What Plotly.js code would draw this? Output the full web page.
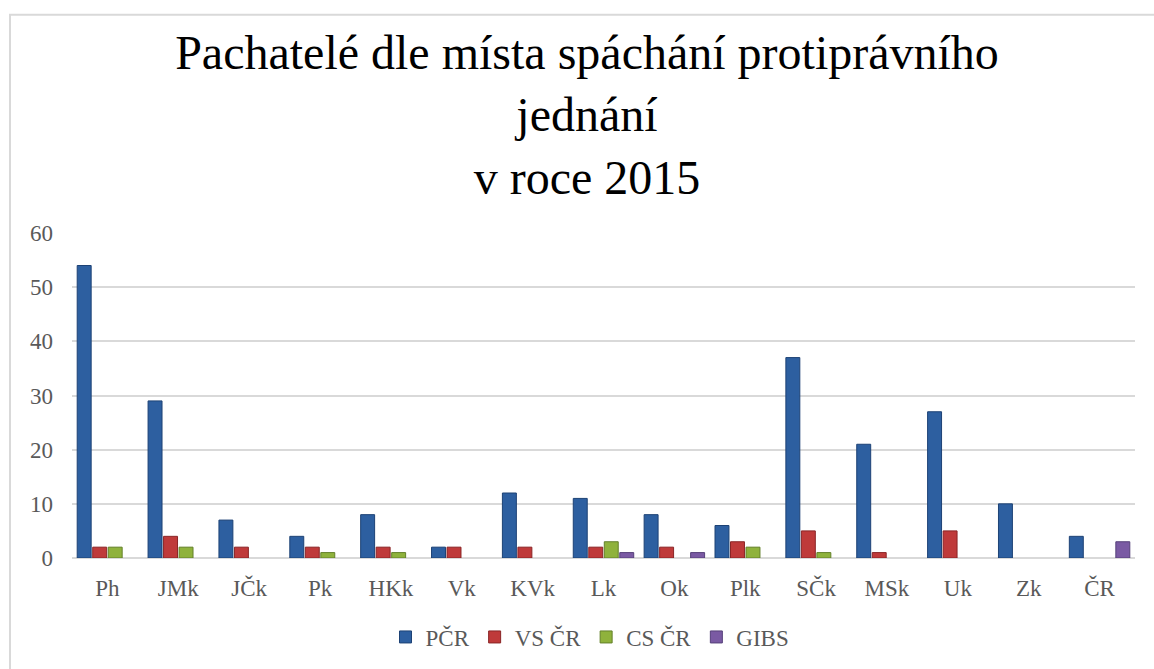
<!DOCTYPE html>
<html>
<head>
<meta charset="utf-8">
<script src="https://cdn.plot.ly/plotly-3.0.1.min.js"></script>
<style>html,body{margin:0;padding:0;background:#fff}#chart{width:1154px;height:669px}</style>
</head>
<body>
<div id="chart"></div>
<script>
const categories = ["Ph","JMk","JČk","Pk","HKk","Vk","KVk","Lk","Ok","Plk","SČk","MSk","Uk","Zk","ČR"];
const pcr   = [54,29,7,4,8,2,12,11,8,6,37,21,27,10,4];
const vsCr  = [2,4,2,2,2,2,2,2,2,3,5,1,5,0,0];
const csCr  = [2,2,0,1,1,0,0,3,0,2,1,0,0,0,0];
const gibs  = [0,0,0,0,0,0,0,1,1,0,0,0,0,0,3];
const seriesNames = ["PČR","VS ČR","CS ČR","GIBS"];
const yTicks = [0,10,20,30,40,50,60];

const colors = ["#2d5fa0","#bf3a3a","#8fb23c","#7a5aa3"];
const lines  = ["#1d4275","#8a2526","#63802a","#56407a"];
const vals = [pcr, vsCr, csCr, gibs];
const FONT = 'Liberation Serif, Times New Roman, serif';

const traces = vals.map((v,i)=>({
  type:'bar', x:categories, y:v.map(d => d === 0 ? null : d), name:seriesNames[i],
  marker:{color:colors[i], line:{color:lines[i], width:1}},
  hoverinfo:'x+y+name'
}));

const ml=72, mr=19, mt=233, mb=110, W=1154, H=669;
const pw=W-ml-mr, ph=H-mt-mb;
const px=(x)=>(x-ml)/pw, py=(y)=>(H-mb-y)/ph;

const layout = {
  width:W, height:H,
  margin:{l:ml, r:mr, t:mt, b:mb},
  paper_bgcolor:'#fff', plot_bgcolor:'#fff',
  font:{family:FONT, color:'#595959', size:23},
  title:{text:'Pachatelé dle místa spáchání protiprávního<br>jednání<br>v roce 2015',
         font:{family:FONT, size:48, color:'#000'},
         x:587/W, xanchor:'center', xref:'container', y:1-69/H, yanchor:'top', yref:'container'},
  barmode:'group', bargap:0.125, bargroupgap:0.1,
  xaxis:{type:'category', showgrid:false, zeroline:false, showline:false, ticks:'',
         tickfont:{family:FONT, size:23, color:'#595959'}, automargin:false, ticklabelstandoff:14},
  yaxis:{range:[0,60], tickvals:yTicks, showgrid:true, gridcolor:'#d9d9d9', gridwidth:2,
         zeroline:true, zerolinecolor:'#d9d9d9', zerolinewidth:2, showline:false, ticks:'',
         tickfont:{family:FONT, size:23, color:'#595959'}, automargin:false, ticklabelstandoff:18},
  legend:{orientation:'h', x:px(590), xanchor:'center', y:py(637), yanchor:'middle',
          font:{family:FONT, size:23, color:'#595959'}, itemwidth:30, traceorder:'normal'},
  showlegend:true,
  shapes:[{type:'rect', xref:'paper', yref:'paper', x0:px(10), x1:px(1200), y0:py(700), y1:py(14),
           line:{color:'#d9d9d9', width:2}, fillcolor:'rgba(0,0,0,0)', layer:'below'}]
};

Plotly.newPlot('chart', traces, layout, {displayModeBar:false, staticPlot:true});
</script>
</body>
</html>
